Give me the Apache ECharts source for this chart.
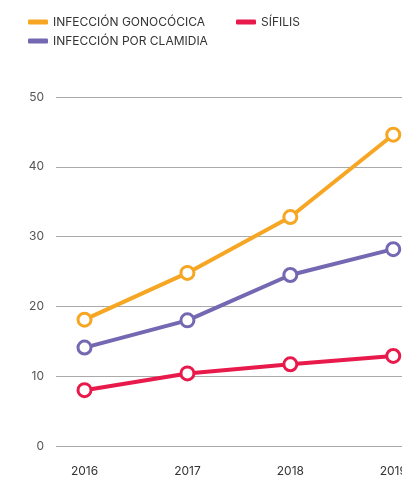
<!DOCTYPE html>
<html><head><meta charset="utf-8">
<script src="https://cdn.jsdelivr.net/npm/echarts@6/dist/echarts.min.js"></script>
<style>html,body{margin:0;padding:0;background:#fff}#c{width:402px;height:479px}</style>
</head><body><div id="c"></div>
<script>
const years = [2016, 2017, 2018, 2019];
const gonococica = [18.1, 24.8, 32.8, 44.6];
const clamidia = [14.1, 18.0, 24.5, 28.2];
const sifilis = [8.0, 10.4, 11.7, 12.9];
const yTicks = [0, 10, 20, 30, 40, 50];
const names = ['INFECCIÓN GONOCÓCICA', 'SÍFILIS', 'INFECCIÓN POR CLAMIDIA'];
const colors = ['#F6A623', '#E8194B', '#7468B2'];
const font = 'Inter, Roboto, sans-serif';

const pairs = arr => years.map((y, i) => [y, arr[i]]);
const mk = (name, data, color) => ({
  name, type: 'line', data: pairs(data), color,
  lineStyle: { width: 4, color },
  symbol: 'circle', symbolSize: 13,
  itemStyle: { color: '#fff', borderColor: color, borderWidth: 3 },
  emphasis: { disabled: true }, z: 3
});
const legItem = i => ({ name: names[i], itemStyle: { color: colors[i], borderWidth: 0 } });
const legBase = {
  itemWidth: 20, itemHeight: 5, icon: 'roundRect', selectedMode: false,
  textStyle: { fontFamily: font, fontSize: 12, color: '#333' }
};

const chart = echarts.init(document.getElementById('c'), null, { renderer: 'canvas' });
chart.setOption({
  animation: false,
  legend: [
    Object.assign({ data: [legItem(0), legItem(1)], left: 23, top: 11, itemGap: 31 }, legBase),
    Object.assign({ data: [legItem(2)], left: 23, top: 30 }, legBase)
  ],
  grid: { left: 56, right: 0, top: 97, bottom: 33, containLabel: false, outerBoundsMode: 'none' },
  xAxis: {
    type: 'value', min: 2015.723, max: 2019.085,
    axisLine: { show: false }, axisTick: { show: false }, splitLine: { show: false },
    axisLabel: { customValues: years, formatter: v => String(v), fontFamily: font, fontSize: 12, color: '#333', margin: 19, hideOverlap: false }
  },
  yAxis: {
    type: 'value', min: 0, max: 50, interval: 10,
    axisLine: { show: false }, axisTick: { show: false },
    splitLine: { lineStyle: { color: '#aaa', width: 1 } },
    axisLabel: { fontFamily: font, fontSize: 12, color: '#555', margin: 12 }
  },
  series: [
    mk(names[0], gonococica, colors[0]),
    mk(names[1], sifilis, colors[1]),
    mk(names[2], clamidia, colors[2])
  ]
});
</script></body></html>
